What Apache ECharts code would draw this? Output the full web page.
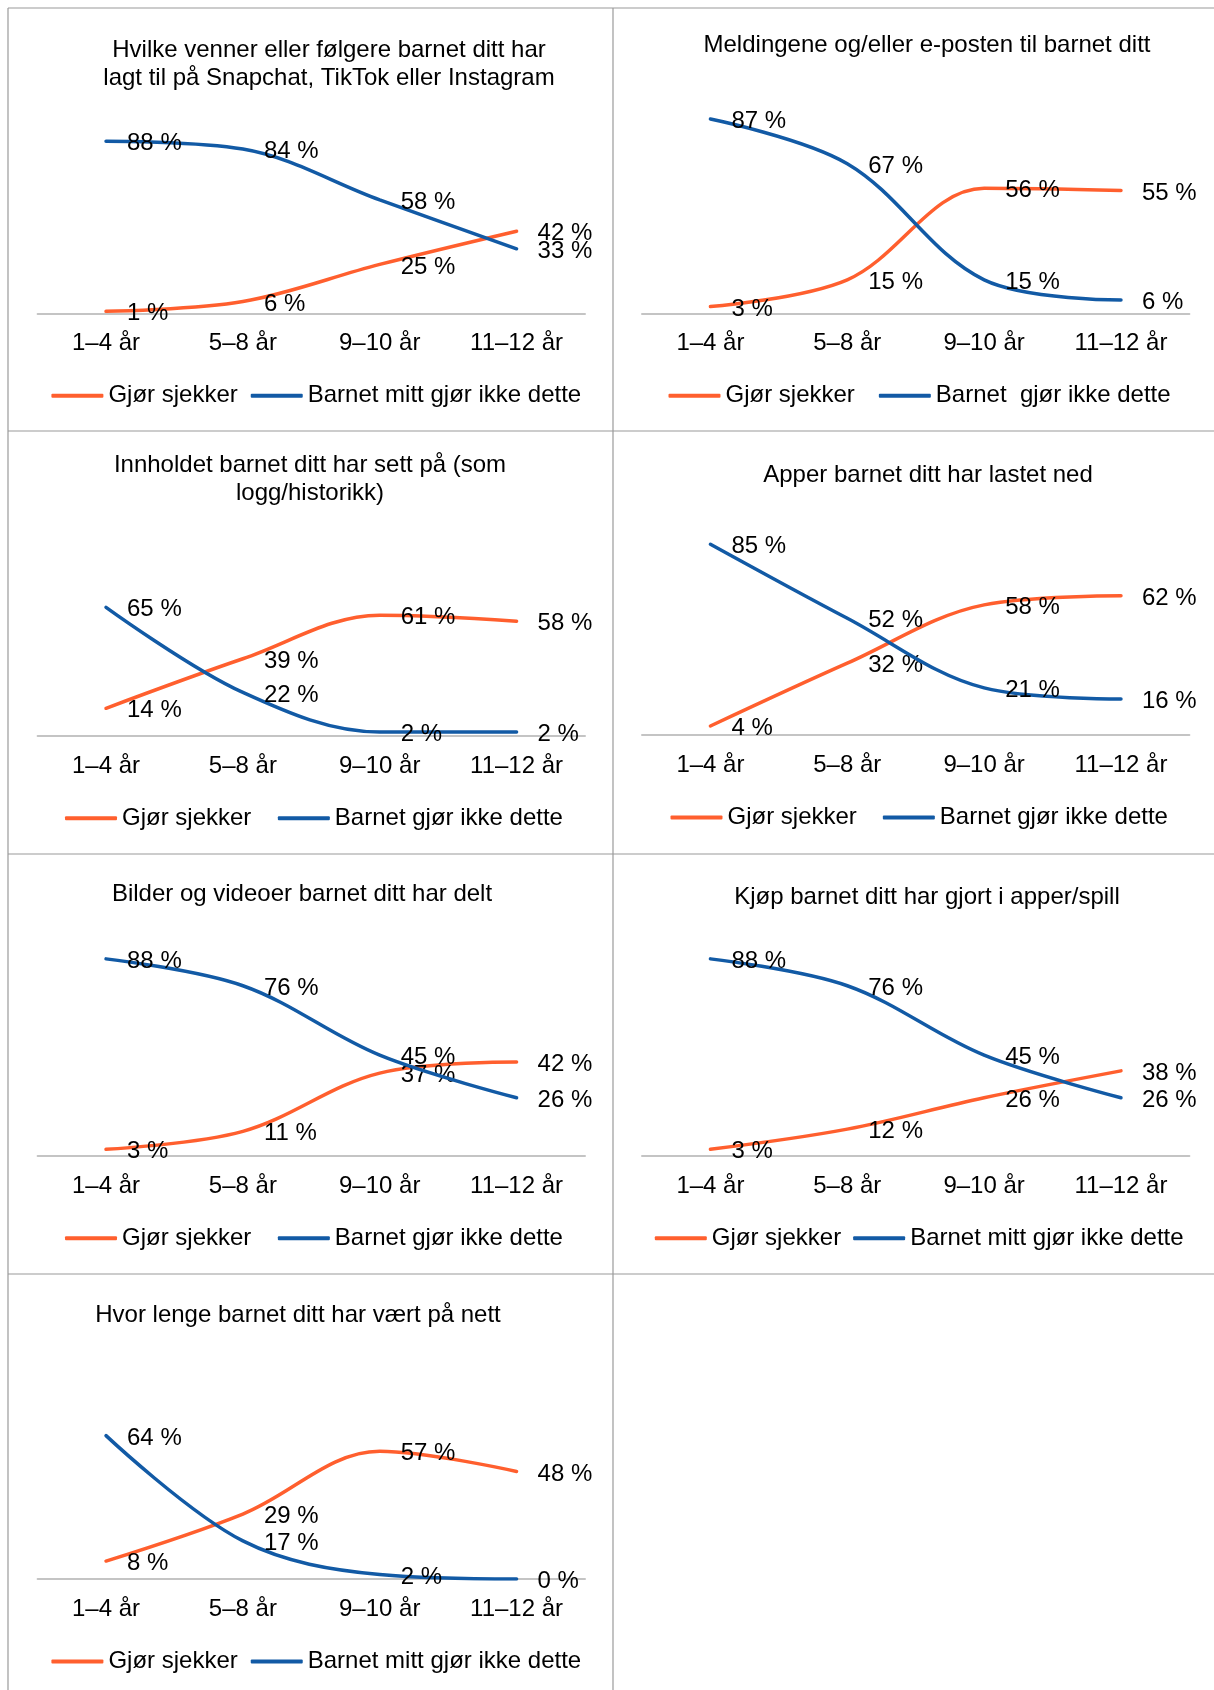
<!DOCTYPE html>
<html>
<head>
<meta charset="utf-8">
<script src="https://cdn.jsdelivr.net/npm/echarts@6/dist/echarts.min.js"></script>
<style>
html,body{margin:0;padding:0;background:#fff;}
#c{width:1214px;height:1690px;}
</style>
</head>
<body>
<div id="c"></div>
<script>
// ---------- data ----------
const categories = ['1–4 år', '5–8 år', '9–10 år', '11–12 år'];

const sjekker1 = [1, 6, 25, 42];
const ikke1    = [88, 84, 58, 33];
const sjekker2 = [3, 15, 56, 55];
const ikke2    = [87, 67, 15, 6];
const sjekker3 = [14, 39, 61, 58];
const ikke3    = [65, 22, 2, 2];
const sjekker4 = [4, 32, 58, 62];
const ikke4    = [85, 52, 21, 16];
const sjekker5 = [3, 11, 37, 42];
const ikke5    = [88, 76, 45, 26];
const sjekker6 = [3, 12, 26, 38];
const ikke6    = [88, 76, 45, 26];
const sjekker7 = [8, 29, 57, 48];
const ikke7    = [64, 17, 2, 0];

const title1 = ['Hvilke venner eller følgere barnet ditt har', 'lagt til på Snapchat, TikTok eller Instagram'];
const title2 = ['Meldingene og/eller e-posten til barnet ditt'];
const title3 = ['Innholdet barnet ditt har sett på (som', 'logg/historikk)'];
const title4 = ['Apper barnet ditt har lastet ned'];
const title5 = ['Bilder og videoer barnet ditt har delt'];
const title6 = ['Kjøp barnet ditt har gjort i apper/spill'];
const title7 = ['Hvor lenge barnet ditt har vært på nett'];

const nameSjekker = 'Gjør sjekker';
const nameIkkeMitt = 'Barnet mitt gjør ikke dette';
const nameIkkeDbl = 'Barnet  gjør ikke dette';
const nameIkke = 'Barnet gjør ikke dette';

const topCaption = 'Andel etter alder på barnet (n = 50)';

// ---------- layout ----------
const FONT = '"Liberation Sans", Arial, Helvetica, sans-serif';
const ORANGE = '#FF5F2E';
const BLUE = '#125AA5';
const LEFT_X = 37.6, RIGHT_X = 642, GRID_W = 547.4;
const DY = 2.5; // text baseline nudge
const SMOOTH = 0.35;

const panels = [
  {title: title1, a: sjekker1, b: ikke1, bName: nameIkkeMitt, gx: LEFT_X,  top: 117.8, axisY: 313.3, tx: 329, ty: [47.5, 75.5], lx: 51.4, ly: 394.3, gap: 13},
  {title: title2, a: sjekker2, b: ikke2, bName: nameIkkeDbl,  gx: RIGHT_X, top: 90,    axisY: 313.3, tx: 927, ty: [43.3],       lx: 668.5, ly: 394.3, gap: 24},
  {title: title3, a: sjekker3, b: ikke3, bName: nameIkke,     gx: LEFT_X,  top: 538,   axisY: 736,   tx: 310, ty: [462.7, 490.7], lx: 65, ly: 816.7, gap: 26.5},
  {title: title4, a: sjekker4, b: ikke4, bName: nameIkke,     gx: RIGHT_X, top: 510.6, axisY: 735,   tx: 928, ty: [472.7],       lx: 670.5, ly: 816, gap: 26},
  {title: title5, a: sjekker5, b: ikke5, bName: nameIkke,     gx: LEFT_X,  top: 932,   axisY: 1156,  tx: 302, ty: [891.7],       lx: 65, ly: 1236.7, gap: 26.5},
  {title: title6, a: sjekker6, b: ikke6, bName: nameIkkeMitt, gx: RIGHT_X, top: 932,   axisY: 1156,  tx: 927, ty: [895],         lx: 654.8, ly: 1236.7, gap: 12},
  {title: title7, a: sjekker7, b: ikke7, bName: nameIkkeMitt, gx: LEFT_X,  top: 1355,  axisY: 1579,  tx: 298, ty: [1313.3],      lx: 51.4, ly: 1660, gap: 13}
];

const grids = [], xAxes = [], yAxes = [], series = [], legends = [], graphics = [];

// table lines
const LINE = {stroke: '#9a9a9a', lineWidth: 1.2};
[[8, 8, 1214, 8], [8, 431, 1214, 431], [8, 854, 1214, 854], [8, 1274, 1214, 1274],
 [8, 8, 8, 1690], [613, 8, 613, 1690]].forEach(function (l) {
  graphics.push({type: 'line', silent: true, shape: {x1: l[0], y1: l[1], x2: l[2], y2: l[3]}, style: LINE});
});

// clipped caption at the very top
graphics.push({type: 'text', silent: true, x: 12, y: -11.5,
  style: {text: topCaption, fontSize: 24, fontStyle: 'italic', fontFamily: FONT, fill: '#000',
          align: 'left', textAlign: 'left', verticalAlign: 'middle', textVerticalAlign: 'middle'}});

function labelCfg() {
  return {show: true, position: 'right', distance: 20, offset: [0, DY], fontSize: 24, lineHeight: 24,
          fontFamily: FONT, color: '#000', formatter: '{c} %'};
}

panels.forEach(function (p, i) {
  grids.push({left: p.gx, width: GRID_W, top: p.top, height: p.axisY - p.top,
              containLabel: false, outerBoundsMode: 'none'});
  xAxes.push({type: 'category', gridIndex: i, data: categories, boundaryGap: true,
    axisLine: {show: true, lineStyle: {color: '#c4c4c4', width: 2}},
    axisTick: {show: false}, splitLine: {show: false},
    axisLabel: {interval: 0, fontSize: 24, lineHeight: 24, fontFamily: FONT, color: '#000', margin: 16 + DY}});
  yAxes.push({type: 'value', gridIndex: i, min: 0, max: 100, show: false, splitLine: {show: false}});

  series.push({name: nameSjekker, type: 'line', xAxisIndex: i, yAxisIndex: i, data: p.a,
    smooth: SMOOTH, color: ORANGE, symbol: 'circle', symbolSize: 2, showSymbol: true,
    itemStyle: {color: ORANGE}, lineStyle: {color: ORANGE, width: 3.5, cap: 'round'},
    label: labelCfg(), emphasis: {disabled: true}, z: 2});
  series.push({name: p.bName, type: 'line', xAxisIndex: i, yAxisIndex: i, data: p.b,
    smooth: SMOOTH, color: BLUE, symbol: 'circle', symbolSize: 2, showSymbol: true,
    itemStyle: {color: BLUE}, lineStyle: {color: BLUE, width: 3.5, cap: 'round'},
    label: labelCfg(), emphasis: {disabled: true}, z: 3});

  legends.push({left: p.lx, top: p.ly - 12 + 1.5, padding: 0, itemGap: p.gap,
    itemWidth: 52, itemHeight: 4, icon: 'roundRect', selectedMode: false,
    data: [nameSjekker, p.bName],
    textStyle: {fontSize: 24, lineHeight: 24, fontFamily: FONT, color: '#000'}});

  p.title.forEach(function (t, k) {
    graphics.push({type: 'text', silent: true, x: p.tx, y: p.ty[k] + DY,
      style: {text: t, fontSize: 24, fontFamily: FONT, fill: '#000',
              align: 'center', textAlign: 'center', verticalAlign: 'middle', textVerticalAlign: 'middle'}});
  });
});

const chart = echarts.init(document.getElementById('c'), null, {renderer: 'canvas'});
chart.setOption({
  backgroundColor: '#fff',
  animation: false,
  textStyle: {fontFamily: FONT},
  grid: grids,
  xAxis: xAxes,
  yAxis: yAxes,
  legend: legends,
  series: series,
  graphic: graphics
});
</script>
</body>
</html>
